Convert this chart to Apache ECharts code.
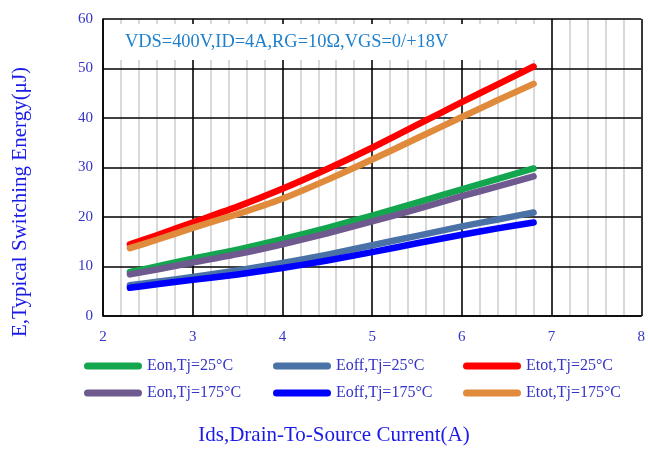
<!DOCTYPE html>
<html>
<head>
<meta charset="utf-8">
<script src="https://cdn.jsdelivr.net/npm/echarts@6/dist/echarts.min.js"></script>
<style>
  html, body { margin: 0; padding: 0; background: #fff; }
  #chart { width: 648px; height: 449px; }
</style>
</head>
<body>
<div id="chart"></div>
<script>
// Drain current (A) at which each curve is sampled
const currents = [2.3, 2.6, 3.0, 3.5, 4.0, 4.5, 5.0, 5.5, 6.0, 6.4, 6.8];

// Switching energies (µJ)
const eon25   = [8.9, 10.0, 11.6, 13.4, 15.5, 17.8, 20.3, 22.9, 25.6, 27.7, 29.8];
const eoff25  = [6.2, 6.9, 7.9, 9.2, 10.7, 12.4, 14.3, 16.2, 18.1, 19.5, 20.9];
const etot25  = [14.5, 16.3, 18.9, 22.1, 25.7, 29.7, 34.0, 38.6, 43.2, 46.8, 50.4];
const eon175  = [8.4, 9.4, 10.8, 12.5, 14.5, 16.7, 19.1, 21.6, 24.2, 26.2, 28.2];
const eoff175 = [5.7, 6.4, 7.3, 8.4, 9.7, 11.2, 12.9, 14.7, 16.4, 17.7, 18.9];
const etot175 = [13.7, 15.4, 17.8, 20.6, 23.7, 27.5, 31.6, 35.9, 40.2, 43.6, 46.9];

const seriesNames = ['Eon,Tj=25°C', 'Eoff,Tj=25°C', 'Etot,Tj=25°C',
                     'Eon,Tj=175°C', 'Eoff,Tj=175°C', 'Etot,Tj=175°C'];
const seriesValues = [eon25, eoff25, etot25, eon175, eoff175, etot175];
const seriesColors = ['#13a64f', '#4a72a6', '#ff0000', '#6e5a8e', '#0000ff', '#e08a3c'];

const conditionText = 'VDS=400V,ID=4A,RG=10Ω,VGS=0/+18V';
const xTitle = 'Ids,Drain-To-Source Current(A)';
const yTitle = 'E,Typical Switching Energy(μJ)';

const FONT = '"Liberation Serif", "Times New Roman", serif';
const capsule = 'path://M3.5,0 L54.5,0 A3.5,3.5 0 0 1 54.5,7 L3.5,7 A3.5,3.5 0 0 1 3.5,0 Z';

const chart = echarts.init(document.getElementById('chart'), null, { renderer: 'canvas' });

// Legend: three columns, two rows
const colLeft = [84, 273, 463];
const rowTop = [358, 385];
const legends = seriesNames.map((name, i) => ({
  data: [name],
  left: colLeft[i % 3],
  top: rowTop[Math.floor(i / 3)],
  padding: 0,
  itemWidth: 58,
  itemHeight: 7,
  icon: capsule,
  selectedMode: false,
  textStyle: { fontFamily: FONT, fontSize: 16, color: '#3434c8' }
}));

const series = seriesNames.map((name, i) => ({
  name: name,
  type: 'line',
  xAxisIndex: 0,
  yAxisIndex: 0,
  smooth: 0.2,
  showSymbol: false,
  symbol: 'none',
  color: seriesColors[i],
  lineStyle: { width: 6.5, color: seriesColors[i], cap: 'round', join: 'round' },
  data: currents.map((x, k) => [x, seriesValues[i][k]]),
  z: 3
}));

chart.setOption({
  backgroundColor: '#fff',
  animation: false,
  grid: { left: 103, right: 3, top: 19, bottom: 133, containLabel: false },
  legend: legends,
  xAxis: [
    {
      type: 'value', min: 2, max: 8, interval: 1, z: 1,
      axisLine: { show: true, lineStyle: { color: '#000', width: 1.5 } },
      axisTick: { show: false },
      axisLabel: { margin: 14, fontFamily: FONT, fontSize: 15, color: '#3434c8' },
      splitLine: { show: true, lineStyle: { color: '#000', width: 1.5 } }
    },
    {
      // fine vertical grid every 0.2 A
      type: 'value', min: 2, max: 8, interval: 0.2, z: 0,
      position: 'bottom',
      axisLine: { show: false },
      axisTick: { show: false },
      axisLabel: { show: false },
      splitLine: { show: true, lineStyle: { color: '#d9d9d9', width: 2 } }
    }
  ],
  yAxis: {
    type: 'value', min: 0, max: 60, interval: 10, z: 1,
    axisLine: { show: true, lineStyle: { color: '#000', width: 1.5 } },
    axisTick: { show: false },
    axisLabel: { margin: 10, fontFamily: FONT, fontSize: 15, color: '#3434c8' },
    splitLine: { show: true, lineStyle: { color: '#000', width: 1.5 } }
  },
  graphic: [
    {
      // white panel behind the test-condition note
      type: 'rect', z: 50,
      shape: { x: 104, y: 24, width: 440, height: 36 },
      style: { fill: '#fff' }
    },
    {
      type: 'text', z: 51, x: 125, y: 42,
      style: {
        text: conditionText, fontFamily: FONT, fontSize: 18.4, fill: '#1e80cc',
        align: 'left', verticalAlign: 'middle'
      }
    },
    {
      type: 'text', x: 20, y: 202, rotation: Math.PI / 2,
      style: {
        text: yTitle, fontFamily: FONT, fontSize: 21, fill: '#1a1ae6',
        align: 'center', verticalAlign: 'middle'
      }
    },
    {
      type: 'text', x: 334, y: 435,
      style: {
        text: xTitle, fontFamily: FONT, fontSize: 21, fill: '#1a1ae6',
        align: 'center', verticalAlign: 'middle'
      }
    }
  ],
  series: series
});
</script>
</body>
</html>
